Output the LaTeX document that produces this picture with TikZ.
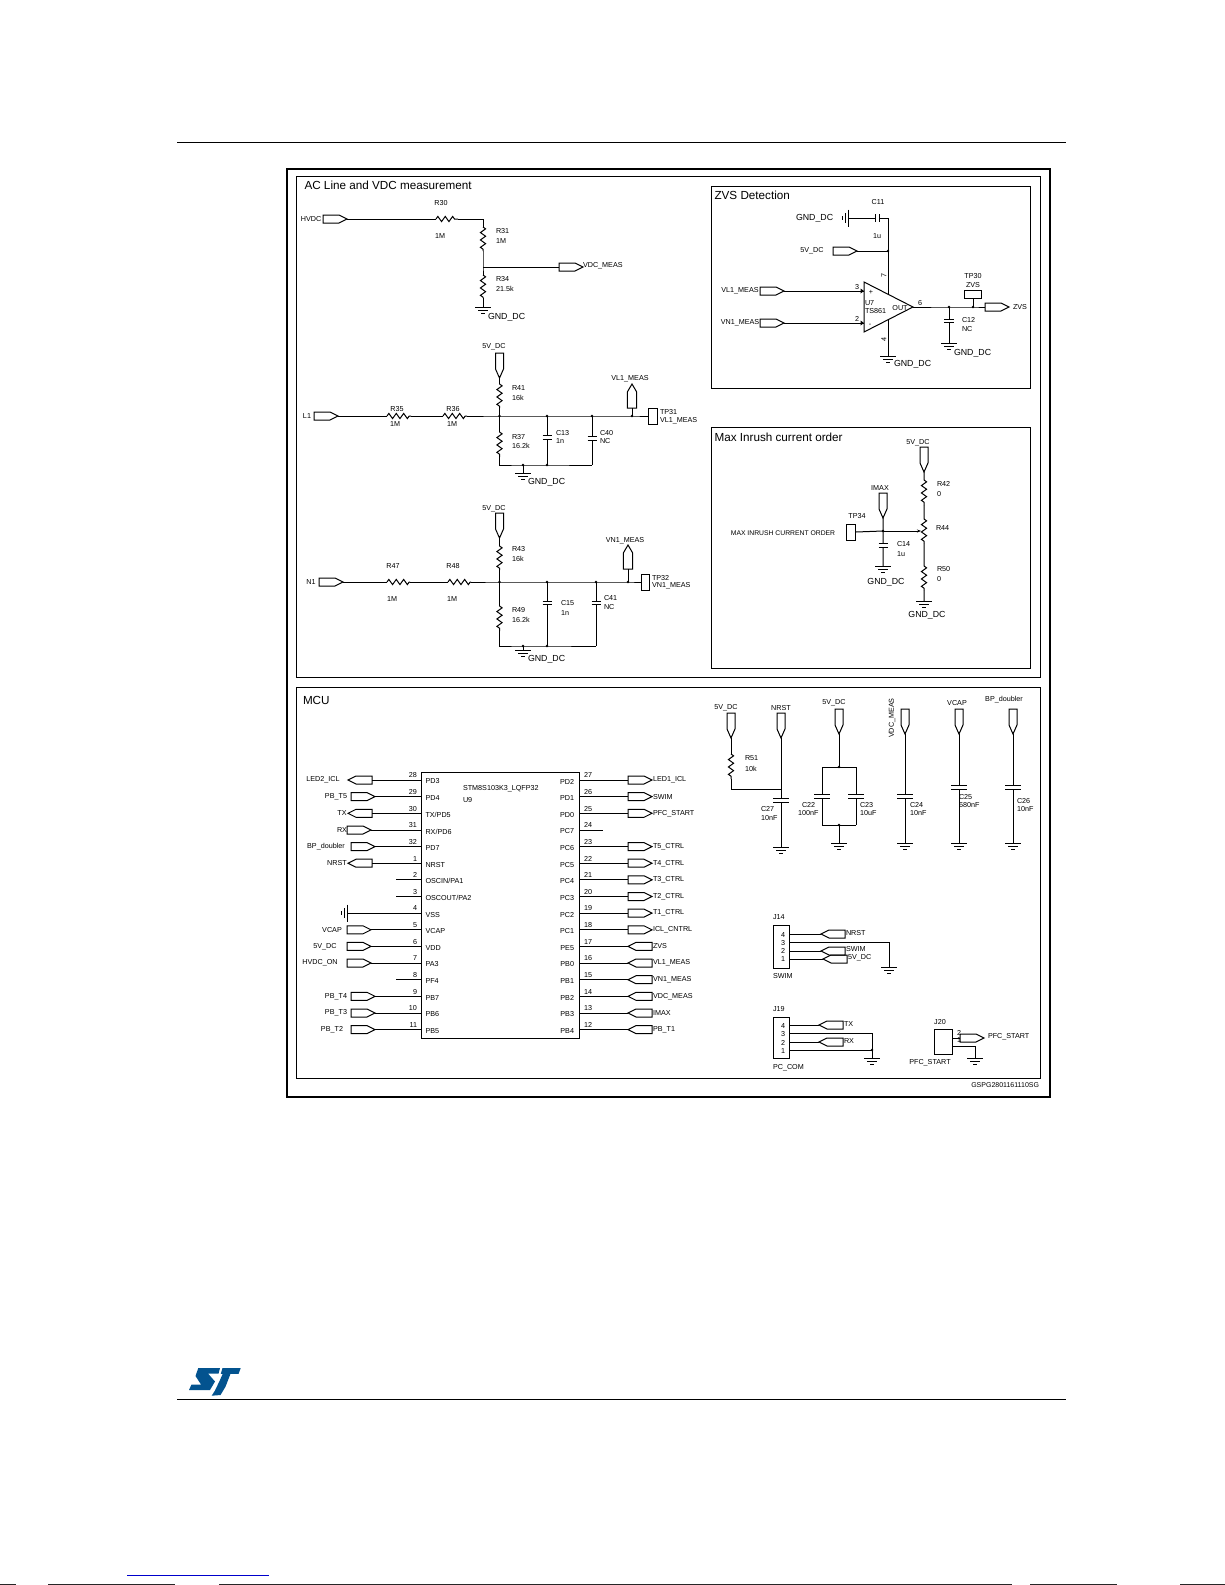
\documentclass[tikz,border=0pt]{standalone}
\usepackage{fontspec}
\setmainfont{Liberation Sans}
\usetikzlibrary{decorations.pathmorphing,arrows.meta}
\newcount\lblc
\tikzset{
  wire/.style={line width=1pt,line join=miter},
  port/.style={line width=1pt},
  res/.style={line width=1pt,decorate,decoration={zigzag,segment length=7.4pt,amplitude=2.6pt}},
  panel/.style={line width=1pt},
  lab/.style={inner sep=0pt,outer sep=0pt,font=\fontsize{7.2}{8}\selectfont,text=black},
  gndlab/.style={lab,font=\fontsize{8.8}{10}\selectfont},
  head/.style={lab,font=\fontsize{11.7}{13}\selectfont,text=black},
  stblue/.style={fill={rgb,255:red,3;green,83;blue,143}}
}
\newcommand\Lw[3]{\global\advance\lblc by 1 \node[lab,anchor=west] (t\the\lblc) at (#1,#2) {#3};}
\newcommand\Lc[3]{\global\advance\lblc by 1 \node[lab] (t\the\lblc) at (#1,#2) {#3};}
\newcommand\Gw[3]{\global\advance\lblc by 1 \node[gndlab,anchor=west] (t\the\lblc) at (#1,#2) {#3};}
\newcommand\Gc[3]{\global\advance\lblc by 1 \node[gndlab] (t\the\lblc) at (#1,#2) {#3};}
\newcommand\Hd[3]{\global\advance\lblc by 1 \node[head,anchor=west] (t\the\lblc) at (#1,#2) {#3};}
% right-pointing port: left end at x
\newcommand\PR[3]{\coordinate (#1l) at (#2,#3); \coordinate (#1r) at ({#2+24},#3);
  \draw[port] (#2,#3) ++(0,-4) -- ++(16,0) -- ++(8,4) -- ++(-8,4) -- ++(-16,0) -- cycle;}
% left-pointing port: tip at x
\newcommand\PL[3]{\coordinate (#1l) at (#2,#3); \coordinate (#1r) at ({#2+24},#3);
  \draw[port] (#2,#3) -- ++(8,-4) -- ++(16,0) -- ++(0,8) -- ++(-16,0) -- cycle;}
% down-pointing port: top at y
\newcommand\PD[3]{\coordinate (#1t) at (#2,#3); \coordinate (#1b) at (#2,{#3+25});
  \draw[port] (#2,#3) ++(-4,0) -- ++(8,0) -- ++(0,16) -- ++(-4,9) -- ++(-4,-9) -- cycle;}
% up-pointing port: tip at y
\newcommand\PU[3]{\coordinate (#1t) at (#2,#3); \coordinate (#1b) at (#2,{#3+24});
  \draw[port] (#2,#3) -- ++(4.7,8) -- ++(0,16) -- ++(-9.4,0) -- ++(0,-16) -- cycle;}
\newcommand\Gnd[3]{\coordinate (#1) at (#2,#3);
  \draw[wire] (#2,#3) ++(-8,0) -- ++(16,0) (#2,#3) ++(-5,3) -- ++(10,0) (#2,#3) ++(-2,6) -- ++(4,0);}
% sideways ground, bar at x, wire from the right
\newcommand\GndS[3]{\coordinate (#1) at (#2,#3);
  \draw[wire] (#2,#3) ++(0,-8.5) -- ++(0,17) (#2,#3) ++(-2.6,-5) -- ++(0,10) (#2,#3) ++(-5.4,-2) -- ++(0,4);}
% vertical capacitor: plates at y and y+gap
\newcommand\CapV[5]{\coordinate (#1t) at (#2,#3); \coordinate (#1b) at (#2,{#3+#4});
  \draw[wire] (#2,#3) ++(-#5,0) -- ++(2*#5,0) (#2,{#3+#4}) ++(-#5,0) -- ++(2*#5,0);}
\newcommand\Dot[1]{\fill (#1) circle (1.4pt);}
\begin{document}
\begin{tikzpicture}[x=1pt,y=-1pt]
\useasboundingbox (0,0) rectangle (1225,1585);
\fill[white] (0,0) rectangle (1225,1585);
% page furniture
\coordinate (ruleA) at (177,142); \coordinate (ruleB) at (1066,142);
\coordinate (ruleC) at (177,1399); \coordinate (ruleD) at (1066,1399);
\draw[line width=1pt] (ruleA) -- (ruleB);
\draw[line width=1pt] (ruleC) -- (ruleD);
\fill[stblue] (198.3,1368) -- (220,1368) -- (218.6,1373.5) -- (208,1373.5) -- (215,1381.5) -- (210,1390) -- (189,1390) -- (191.5,1384.5) -- (201,1384.5) -- (195.5,1376) -- cycle;
\fill[stblue] (222.5,1368) -- (240.7,1368) -- (238.6,1373.8) -- (230.5,1373.8) -- (225.5,1386.7) -- (220.5,1395) -- (211.7,1395.7) -- (215,1390.5) -- (220,1380) -- (222.7,1373.8) -- (220.8,1373.8) -- cycle;
\coordinate (lnkA) at (127,1575); \coordinate (lnkB) at (269,1575);
\draw[line width=1pt,color={rgb,255:red,0;green,0;blue,204}] (lnkA) -- (lnkB);
\draw[line width=1pt,black!85] (0,1584.5) -- (16,1584.5) (48,1584.5) -- (175,1584.5) (219,1584.5) -- (1012,1584.5) (1030,1584.5) -- (1117,1584.5) (1180,1584.5) -- (1225,1584.5);
% frames
\draw[line width=2pt] (287,169) rectangle (1049.5,1097);
\draw[panel] (296,176) rectangle (1040,677);
\draw[panel] (296,687) rectangle (1040,1078);
\draw[panel] (711,186) rectangle (1030,388);
\draw[panel] (711,427) rectangle (1030,668);
\Hd{304.5}{185}{AC Line and VDC measurement}
\Hd{714.5}{195}{ZVS Detection}
\Hd{714.5}{437}{Max Inrush current order}
\Hd{303}{700}{MCU}
\global\advance\lblc by 1 \node[lab,anchor=east,font=\fontsize{7}{8}\selectfont] (t\the\lblc) at (1039,1085) {GSPG2801161110SG};

% ---------- HVDC divider
\PR{hv}{323}{219} \Lc{311}{219}{HVDC}
\coordinate (r30a) at (436,219); \coordinate (r30b) at (458,219);
\coordinate (c1) at (483,219);
\coordinate (r31a) at (483,227); \coordinate (r31b) at (483,251);
\coordinate (jv) at (483,267);
\coordinate (r34a) at (483,275); \coordinate (r34b) at (483,298);
\PR{vm}{559}{267} \Gnd{g1}{483}{307}
\draw[wire] (hvr) -- (r30a) (r30b) -- (c1) -- (r31a) (r31b) -- (jv) -- (r34a) (r34b) -- (g1) (jv) -- (vml);
\draw[res] (r30a) -- (r30b); \draw[res] (r31a) -- (r31b); \draw[res] (r34a) -- (r34b);
\Lc{441}{203}{R30} \Lc{440}{236}{1M} \Lw{496}{231}{R31} \Lw{496}{241}{1M}
\Lw{496}{279}{R34} \Lw{496}{289}{21.5k} \Lw{583}{266}{VDC\_MEAS} \Gw{488}{317}{GND\_DC}

% ---------- L1 divider
\PR{lp}{314}{416} \Lc{307}{416}{L1}
\coordinate (r35a) at (387,416); \coordinate (r35b) at (411,416);
\coordinate (r36a) at (443,416); \coordinate (r36b) at (467,416);
\coordinate (j1) at (499.5,416); \coordinate (j2) at (547,416); \coordinate (j3) at (592,416); \coordinate (j4) at (632,416);
\node[draw,line width=1pt,minimum width=9pt,minimum height=16pt,inner sep=0pt,anchor=west] (tp31) at (648,416) {};
\PD{p5a}{499.5}{353} \PU{vl}{632}{384}
\coordinate (r41a) at (499.5,384); \coordinate (r41b) at (499.5,408);
\coordinate (r37a) at (499.5,432); \coordinate (r37b) at (499.5,457);
\coordinate (bl) at (499.5,465); \coordinate (bg) at (523,465); \coordinate (bc) at (547,465); \coordinate (br) at (592,465);
\CapV{c13}{547}{435}{4}{4.5} \CapV{c40}{592}{436}{4}{4.5}
\Gnd{g2}{523}{473}
\draw[wire] (lpr) -- (r35a) (r35b) -- (r36a) (r36b) -- (j1) -- (j2) -- (j3) -- (j4) -- (tp31.west);
\draw[wire] (p5ab) -- (r41a) (r41b) -- (j1) -- (r37a) (r37b) -- (bl) -- (bg) -- (bc) -- (br);
\draw[wire] (j2) -- (c13t) (c13b) -- (bc) (j3) -- (c40t) (c40b) -- (br) (vlb) -- (j4) (bg) -- (g2);
\draw[res] (r35a) -- (r35b); \draw[res] (r36a) -- (r36b); \draw[res] (r41a) -- (r41b); \draw[res] (r37a) -- (r37b);
\Dot{j1}\Dot{j2}\Dot{j3}\Dot{j4}\Dot{bg}\Dot{bc}
\Lc{397}{409}{R35} \Lc{395}{424}{1M} \Lc{453}{409}{R36} \Lc{452}{424}{1M}
\Lc{494}{347}{5V\_DC} \Lw{512}{388}{R41} \Lw{512}{398}{16k} \Lw{512}{437}{R37} \Lw{512}{446}{16.2k}
\Lw{556}{433}{C13} \Lw{556}{441}{1n} \Lw{600}{433}{C40} \Lw{600}{441}{NC}
\Lc{630}{379}{VL1\_MEAS} \Lw{660}{412}{TP31} \Lw{660}{421}{VL1\_MEAS} \Gw{528}{482}{GND\_DC}

% ---------- N1 divider
\PR{np}{319}{582} \Lc{311}{582}{N1}
\coordinate (r47a) at (387,582); \coordinate (r47b) at (410,582);
\coordinate (r48a) at (448,582); \coordinate (r48b) at (471,582);
\coordinate (k1) at (499.5,582); \coordinate (k2) at (547,582); \coordinate (k3) at (596,582); \coordinate (k4) at (628,582);
\node[draw,line width=1pt,minimum width=7.5pt,minimum height=16pt,inner sep=0pt,anchor=west] (tp32) at (641,582) {};
\PD{p5b}{499.5}{513} \PU{vn}{628}{545}
\coordinate (r43a) at (499.5,546); \coordinate (r43b) at (499.5,570);
\coordinate (r49a) at (499.5,606); \coordinate (r49b) at (499.5,631);
\coordinate (ml) at (499.5,646); \coordinate (mg) at (523,646); \coordinate (mc) at (547,646); \coordinate (mr) at (596,646);
\CapV{c15}{547}{601}{3.5}{4.5} \CapV{c41}{596}{601}{3.5}{4.5}
\Gnd{g3}{523}{650}
\draw[wire] (npr) -- (r47a) (r47b) -- (r48a) (r48b) -- (k1) -- (k2) -- (k3) -- (k4) -- (tp32.west);
\draw[wire] (p5bb) -- (r43a) (r43b) -- (k1) -- (r49a) (r49b) -- (ml) -- (mg) -- (mc) -- (mr);
\draw[wire] (k2) -- (c15t) (c15b) -- (mc) (k3) -- (c41t) (c41b) -- (mr) (vnb) -- (k4) (mg) -- (g3);
\draw[res] (r47a) -- (r47b); \draw[res] (r48a) -- (r48b); \draw[res] (r43a) -- (r43b); \draw[res] (r49a) -- (r49b);
\Dot{k1}\Dot{k2}\Dot{k3}\Dot{k4}\Dot{mg}\Dot{mc}
\Lc{393}{566}{R47} \Lc{392}{599}{1M} \Lc{453}{566}{R48} \Lc{452}{599}{1M}
\Lc{494}{509}{5V\_DC} \Lw{512}{549}{R43} \Lw{512}{559}{16k} \Lw{512}{610}{R49} \Lw{512}{620}{16.2k}
\Lw{561}{603}{C15} \Lw{561}{613}{1n} \Lw{604}{598}{C41} \Lw{604}{607}{NC}
\Lc{625}{541}{VN1\_MEAS} \Lw{652}{578}{TP32} \Lw{652}{586}{VN1\_MEAS} \Gw{528}{659}{GND\_DC}

% ---------- ZVS
\coordinate (oa1) at (864,282); \coordinate (oa2) at (864,332); \coordinate (oa3) at (913,307);
\draw[wire] (oa1) -- (oa3) -- (oa2) -- cycle;
\GndS{g4}{848}{218}
\coordinate (c11a) at (875,218); \coordinate (c11b) at (879,218); \coordinate (c11c) at (888,218);
\draw[wire] (c11a) ++(0,-4) -- ++(0,8) (c11b) ++(0,-4) -- ++(0,8);
\PR{z5}{833}{251} \coordinate (z5j) at (888,251); \coordinate (zs1) at (888,294); \coordinate (zs2) at (888,320);
\Gnd{g5}{888}{356}
\draw[wire] (g4) -- (c11a) (c11b) -- (c11c) -- (z5j) -- (zs1) (z5r) -- (z5j) (zs2) -- (g5);
\Dot{z5j}
\PR{zv1}{760}{291} \PR{zv2}{760}{323}
\coordinate (zi1) at (864,291); \coordinate (zi2) at (864,323);
\draw[wire] (zv1r) -- (zi1) (zv2r) -- (zi2);
\fill (860.5,288.5) -- (864,291) -- (860.5,293.5) -- cycle;
\fill (860.5,320.5) -- (864,323) -- (860.5,325.5) -- cycle;
\coordinate (zj) at (949,307); \coordinate (zk) at (973,307);
\PR{zo}{985}{307}
\draw[wire] (oa3) -- (zj) -- (zk) -- (zol);
\node[draw,line width=1pt,minimum width=17pt,minimum height=8pt,inner sep=0pt,anchor=south] (tp30) at (973,299) {};
\draw[wire] (zk) -- (tp30.south);
\CapV{c12}{949}{319}{3}{5}
\Gnd{g6}{949}{343}
\draw[wire] (zj) -- (c12t) (c12b) -- (g6);
\Dot{zj}\Dot{zk}
\Gw{796}{218}{GND\_DC} \Lc{878}{202}{C11} \Lc{877}{236}{1u} \Lc{812}{251}{5V\_DC}
\Lc{740}{291}{VL1\_MEAS} \Lc{740}{323}{VN1\_MEAS}
\Lc{857}{287}{3} \Lc{857}{319}{2} \Lc{871}{292}{+} \Lc{870}{325}{-}
\Lw{865}{303}{U7} \Lw{865}{311}{TS861} \Lc{900}{308}{OUT} \Lc{920}{303}{6}
\global\advance\lblc by 1 \node[lab,rotate=90] (t\the\lblc) at (884,275) {7};
\global\advance\lblc by 1 \node[lab,rotate=90] (t\the\lblc) at (884,339) {4};
\Lc{973}{276}{TP30} \Lc{973}{285}{ZVS} \Lw{1013}{307}{ZVS} \Lw{962}{320}{C12} \Lw{962}{329}{NC}
\Gw{954}{353}{GND\_DC} \Gw{894}{364}{GND\_DC}

% ---------- Max inrush
\PD{m5}{924}{447} \PD{mi}{883}{493}
\coordinate (r42a) at (924,480); \coordinate (r42b) at (924,505);
\coordinate (r44a) at (924,519); \coordinate (r44b) at (924,543);
\coordinate (r50a) at (924,566); \coordinate (r50b) at (924,590);
\coordinate (wip) at (921,531); \coordinate (mj) at (883,531);
\node[draw,line width=1pt,minimum width=9pt,minimum height=16pt,inner sep=0pt,anchor=east] (tp34) at (856,532) {};
\Gnd{g7}{924}{601} \Gnd{g8}{883}{566}
\CapV{c14}{883}{543}{4}{4.5}
\draw[wire] (m5b) -- (r42a) (r42b) -- (r44a) (r44b) -- (r50a) (r50b) -- (g7) (mib) -- (mj) -- (c14t) (c14b) -- (g8) (tp34.east) -- (mj);
\draw[wire,-{Stealth[length=4pt,width=3pt]}] (mj) -- (wip);
\draw[res] (r42a) -- (r42b); \draw[res] (r44a) -- (r44b); \draw[res] (r50a) -- (r50b);
\Dot{mj}
\Lc{918}{442.5}{5V\_DC} \Lw{937}{484}{R42} \Lw{937}{494}{0} \Lw{936}{528}{R44} \Lw{937}{569}{R50} \Lw{937}{579}{0}
\Lc{880}{488}{IMAX} \Lc{857}{516}{TP34}
\global\advance\lblc by 1 \node[lab,font=\fontsize{6.8}{8}\selectfont] (t\the\lblc) at (783,533) {MAX INRUSH CURRENT ORDER};
\Lw{897}{544}{C14} \Lw{897}{554}{1u} \Gc{886}{582}{GND\_DC} \Gc{927}{615}{GND\_DC}

% ---------- MCU
\node[draw,line width=1pt,minimum width=158pt,minimum height=266pt,inner sep=0pt,anchor=north west] (ic) at (421,772) {};
\Lw{463}{789}{STM8S103K3\_LQFP32} \Lw{463}{800}{U9}
\foreach \i/\y/\n/\p in {0/780/28/PD3,1/796.6/29/PD4,2/813.3/30/{TX/PD5},3/830/31/{RX/PD6},4/846.6/32/PD7,5/863.2/1/NRST,6/879.8/2/{OSCIN/PA1},7/896.5/3/{OSCOUT/PA2},8/913.1/4/VSS,9/929.8/5/VCAP,10/946.4/6/VDD,11/963/7/PA3,12/979.7/8/PF4,13/996.3/9/PB7,14/1013/10/PB6,15/1029.6/11/PB5}{
  \coordinate (L\i) at (421,\y);
  \global\advance\lblc by 1 \node[lab,anchor=east] (t\the\lblc) at (417,\y-4.6) {\n};
  \Lw{425.5}{\y+1.5}{\p}
}
\foreach \i/\y/\n/\p in {0/780/27/PD2,1/796.6/26/PD1,2/813.3/25/PD0,3/830/24/PC7,4/846.6/23/PC6,5/863.2/22/PC5,6/879.8/21/PC4,7/896.5/20/PC3,8/913.1/19/PC2,9/929.8/18/PC1,10/946.4/17/PE5,11/963/16/PB0,12/979.7/15/PB1,13/996.3/14/PB2,14/1013/13/PB3,15/1029.6/12/PB4}{
  \coordinate (R\i) at (579,\y);
  \Lc{588}{\y-4.6}{\n}
  \global\advance\lblc by 1 \node[lab,anchor=east] (t\the\lblc) at (574,\y+1.5) {\p};
}
% left side ports
\foreach \i/\y/\k/\x/\t/\tx in {0/780/PL/348/LED2\_ICL/323,1/796.6/PR/351/PB\_T5/336,2/813.3/PL/348/TX/342,3/830/PR/347/RX/342,4/846.6/PR/351/BP\_doubler/326,5/863.2/PL/348/NRST/337,9/929.8/PR/347/VCAP/332,10/946.4/PR/347/5V\_DC/325,11/963/PR/347/HVDC\_ON/320,13/996.3/PR/351/PB\_T4/336,14/1013/PR/351/PB\_T3/336,15/1029.6/PR/351/PB\_T2/332}{
  \csname\k\endcsname{pl\i}{\x}{\y}
  \draw[wire] (pl\i r) -- (L\i);
  \Lc{\tx}{\y}{\t}
}
% stubs and VSS
\coordinate (st6) at (396,879.8); \coordinate (st7) at (396,896.5); \coordinate (st12) at (396,979.7); \coordinate (st3) at (603,830);
\draw[wire] (st6) -- (L6) (st7) -- (L7) (st12) -- (L12) (R3) -- (st3);
\GndS{g9}{347}{913.1}
\draw[wire] (g9) -- (L8);
% right side ports
\foreach \i/\y/\k/\t in {0/780/PR/LED1\_ICL,1/796.6/PR/SWIM,2/813.3/PR/PFC\_START,4/846.6/PR/T5\_CTRL,5/863.2/PR/T4\_CTRL,6/879.8/PR/T3\_CTRL,7/896.5/PR/T2\_CTRL,8/913.1/PR/T1\_CTRL,9/929.8/PR/ICL\_CNTRL,10/946.4/PL/ZVS,11/963/PL/VL1\_MEAS,12/979.7/PL/VN1\_MEAS,13/996.3/PL/VDC\_MEAS,14/1013/PL/IMAX,15/1029.6/PL/PB\_T1}{
  \csname\k\endcsname{pr\i}{628}{\y}
  \draw[wire] (R\i) -- (pr\i l);
  \Lw{653}{\y}{\t}
}

% ---------- decoupling
\PD{d1}{731}{713} \PD{d2}{781}{713} \PD{d3}{839}{709} \PD{d4}{905}{709} \PD{d5}{959}{709} \PD{d6}{1013}{709}
\coordinate (r51a) at (731,754); \coordinate (r51b) at (731,779); \coordinate (r51c) at (731,789); \coordinate (r51d) at (781,789);
\CapV{c27}{781}{798}{4.5}{8} \Gnd{g10}{781}{847}
\draw[wire] (d1b) -- (r51a) (r51b) -- (r51c) -- (r51d) (d2b) -- (c27t) (c27b) -- (g10);
\draw[res] (r51a) -- (r51b);
\coordinate (e1) at (839,767); \coordinate (e2) at (822,767); \coordinate (e3) at (856,767);
\coordinate (e4) at (839,825); \coordinate (e5) at (822,825); \coordinate (e6) at (856,825);
\CapV{c22}{822}{794}{4}{8} \CapV{c23}{856}{794}{4}{8} \Gnd{g11}{839}{843}
\draw[wire] (d3b) -- (e1) (e2) -- (e3) (e2) -- (c22t) (e3) -- (c23t) (c22b) -- (e5) (c23b) -- (e6) (e5) -- (e6) (e4) -- (g11);
\Dot{e1}\Dot{e4}
\CapV{c24}{905}{794}{4}{8} \Gnd{g12}{905}{843}
\draw[wire] (d4b) -- (c24t) (c24b) -- (g12);
\CapV{c25}{959}{785}{4}{8} \Gnd{g13}{959}{843}
\draw[wire] (d5b) -- (c25t) (c25b) -- (g13);
\CapV{c26}{1013}{785}{4}{8} \Gnd{g14}{1013}{843}
\draw[wire] (d6b) -- (c26t) (c26b) -- (g14);
\Lc{726}{708}{5V\_DC} \Lc{781}{708}{NRST} \Lc{834}{703}{5V\_DC} \Lc{957}{703}{VCAP} \Lc{1004}{700}{BP\_doubler}
\global\advance\lblc by 1 \node[lab,rotate=90] (t\the\lblc) at (892,718) {VDC\_MEAS};
\Lw{745}{758}{R51} \Lw{745}{769}{10k} \Lw{761}{809}{C27} \Lw{761}{818}{10nF}
\Lw{802}{805}{C22} \Lw{798}{813}{100nF} \Lw{860}{805}{C23} \Lw{860}{813}{10uF}
\Lw{910}{805}{C24} \Lw{910}{813}{10nF} \Lw{959}{797}{C25} \Lw{959}{805}{680nF} \Lw{1017}{801}{C26} \Lw{1017}{809}{10nF}

% ---------- J14
\node[draw,line width=1pt,minimum width=16pt,minimum height=43pt,inner sep=0pt,anchor=north west] (j14) at (773,925) {};
\coordinate (a4) at (789,934); \coordinate (a3) at (789,942); \coordinate (a2) at (789,951); \coordinate (a1) at (789,959);
\PL{q4}{821}{934} \PL{q2}{821}{951} \PL{q1}{823}{959}
\coordinate (a3c) at (889,942); \Gnd{g15}{889}{967}
\draw[wire] (a4) -- (q4l) (a2) -- (q2l) (a1) -- (q1l) (a3) -- (a3c) -- (g15);
\Lw{773}{917}{J14} \Lc{783}{935}{4} \Lc{783}{943}{3} \Lc{783}{951}{2} \Lc{783}{959}{1} \Lw{773}{976}{SWIM}
\Lw{846}{933}{NRST} \Lw{846}{949}{SWIM} \Lw{848}{958}{5V\_DC}
% ---------- J19
\node[draw,line width=1pt,minimum width=16pt,minimum height=41pt,inner sep=0pt,anchor=north west] (j19) at (773,1017) {};
\coordinate (b4) at (789,1025); \coordinate (b3) at (789,1033); \coordinate (b2) at (789,1042); \coordinate (b1) at (789,1050);
\PL{w4}{819}{1025} \PL{w2}{819}{1042}
\coordinate (b3c) at (872,1033); \coordinate (b1c) at (872,1050); \Gnd{g16}{872}{1058}
\draw[wire] (b4) -- (w4l) (b2) -- (w2l) (b3) -- (b3c) -- (b1c) -- (g16) (b1) -- (b1c);
\Dot{b1c}
\Lw{773}{1009}{J19} \Lc{783}{1026}{4} \Lc{783}{1034}{3} \Lc{783}{1043}{2} \Lc{783}{1051}{1} \Lw{773}{1068}{PC\_COM}
\Lw{844}{1024}{TX} \Lw{844}{1041}{RX}
% ---------- J20
\node[draw,line width=1pt,minimum width=18pt,minimum height=25pt,inner sep=0pt,anchor=north west] (j20) at (934,1029) {};
\coordinate (f2) at (952,1038); \coordinate (f1) at (952,1046); \coordinate (f1c) at (975,1046);
\PR{fp}{960}{1038} \Gnd{g17}{975}{1058}
\draw[wire] (f2) -- (fpl) (f1) -- (f1c) -- (g17);
\Lc{940}{1022}{J20} \Lc{959}{1033}{2} \Lc{959}{1040}{1} \Lw{988}{1037}{PFC\_START} \Lc{930}{1063}{PFC\_START}
\end{tikzpicture}
\end{document}
